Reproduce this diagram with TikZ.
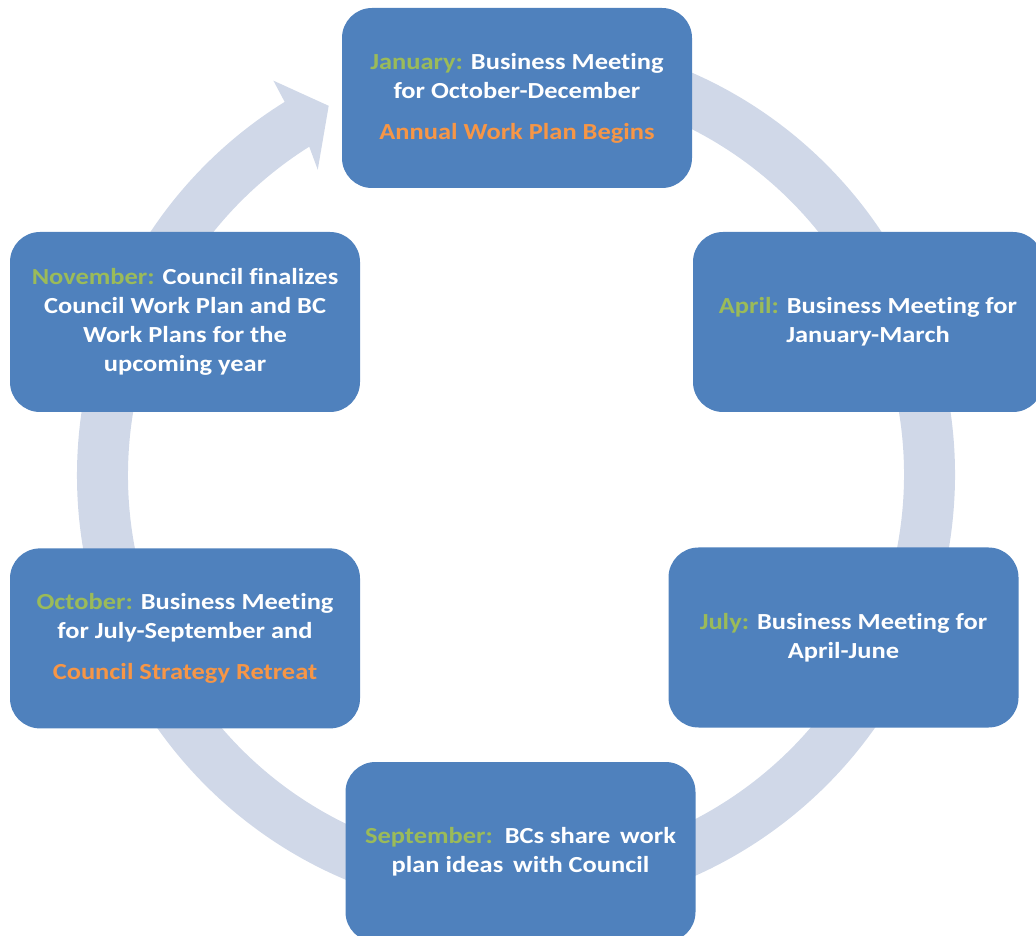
\documentclass[tikz,border=0pt]{standalone}
\usepackage{fontspec}
\setmainfont{Carlito}[FakeStretch=1.15,Ligatures=NoCommon]
\usetikzlibrary{positioning}

\definecolor{boxblue}{RGB}{79,129,189}
\definecolor{ringgray}{RGB}{208,216,232}
\definecolor{mgreen}{RGB}{155,187,89}
\definecolor{porange}{RGB}{247,150,70}

\newcommand{\mlabel}[1]{\textcolor{mgreen}{#1}}
\newcommand{\plan}[1]{\textcolor{porange}{#1}}

\begin{document}
\begin{tikzpicture}[x=1pt,y=1pt,
  every node/.style={fill=boxblue,rounded corners=30pt,minimum width=350pt,
    minimum height=180pt,align=center,text=white,inner sep=0pt,
    font=\fontsize{23}{29}\selectfont\bfseries}]
\useasboundingbox (0,0) rectangle (1036,935);
\clip (0,0) rectangle (1036,935);
\coordinate (c) at (516,460);

% the cycle arrow behind the boxes
\fill[ringgray] ([shift={(c)}]85:439) arc[start angle=85,end angle=-238.2,radius=439]
  -- ([shift={(c)}]-238.4:463) -- ([shift={(c)}]-243.1:414)
  -- ([shift={(c)}]-237:364) -- ([shift={(c)}]-237.8:388)
  arc[start angle=-237.8,end angle=85,radius=388] -- cycle;

\node (jan) at (517,837) {\mlabel{January:} Business Meeting\\for October-December\\[12pt]\plan{Annual Work Plan Begins}};
\node (apr) at (868,613) {\mlabel{April:} Business Meeting for\\January-March};
\node (jul) at (843.5,297.5) {\mlabel{July:} Business Meeting for\\April-June};
\node (sep) at (520.5,83) {\mlabel{September:}\ \ BCs share\ \,work\\plan ideas\ \,with Council};
\node (nov) at (185,613) {\mlabel{November:} Council finalizes\\Council Work Plan and BC\\Work Plans for the\\upcoming year};
\node (oct) [below=136pt of nov] {\mlabel{October:} Business Meeting\\for July-September and\\[12pt]\plan{Council Strategy Retreat}};
\end{tikzpicture}
\end{document}
